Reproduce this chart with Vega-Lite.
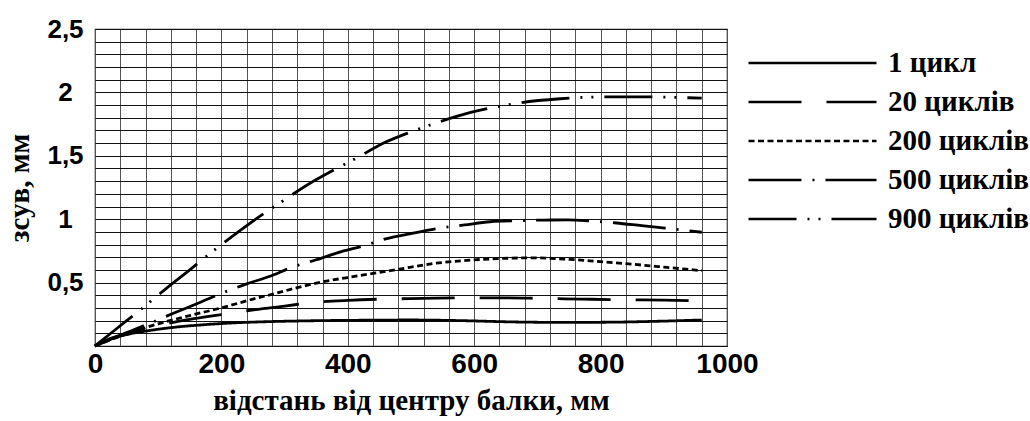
{
  "$schema": "https://vega.github.io/schema/vega-lite/v6.json",
  "width": 632,
  "height": 317,
  "autosize": {"type": "none"},
  "padding": {"left": 95, "top": 29, "right": 303, "bottom": 75},
  "background": "white",
  "config": {
    "view": {"stroke": "#222", "strokeWidth": 1.2},
    "axis": {"domain": false, "ticks": false, "tickSize": 0, "gridOpacity": 1, "gridWidth": 1}
  },
  "data": {
    "values": [
      {"series": "1 цикл", "x": 0, "y": 0},
      {"series": "1 цикл", "x": 25, "y": 0.055},
      {"series": "1 цикл", "x": 50, "y": 0.09},
      {"series": "1 цикл", "x": 90, "y": 0.125},
      {"series": "1 цикл", "x": 130, "y": 0.15},
      {"series": "1 цикл", "x": 170, "y": 0.167},
      {"series": "1 цикл", "x": 210, "y": 0.18},
      {"series": "1 цикл", "x": 260, "y": 0.19},
      {"series": "1 цикл", "x": 330, "y": 0.198},
      {"series": "1 цикл", "x": 420, "y": 0.203},
      {"series": "1 цикл", "x": 500, "y": 0.205},
      {"series": "1 цикл", "x": 580, "y": 0.2},
      {"series": "1 цикл", "x": 660, "y": 0.19},
      {"series": "1 цикл", "x": 740, "y": 0.186},
      {"series": "1 цикл", "x": 820, "y": 0.188},
      {"series": "1 цикл", "x": 890, "y": 0.195},
      {"series": "1 цикл", "x": 960, "y": 0.205},

      {"series": "20 циклів", "x": 0, "y": 0},
      {"series": "20 циклів", "x": 25, "y": 0.06},
      {"series": "20 циклів", "x": 50, "y": 0.1},
      {"series": "20 циклів", "x": 97, "y": 0.16},
      {"series": "20 циклів", "x": 150, "y": 0.21},
      {"series": "20 циклів", "x": 203, "y": 0.25},
      {"series": "20 циклів", "x": 243, "y": 0.28},
      {"series": "20 циклів", "x": 300, "y": 0.315},
      {"series": "20 циклів", "x": 350, "y": 0.345},
      {"series": "20 циклів", "x": 400, "y": 0.36},
      {"series": "20 циклів", "x": 456, "y": 0.37},
      {"series": "20 циклів", "x": 520, "y": 0.375},
      {"series": "20 циклів", "x": 583, "y": 0.38},
      {"series": "20 циклів", "x": 650, "y": 0.38},
      {"series": "20 циклів", "x": 709, "y": 0.375},
      {"series": "20 циклів", "x": 770, "y": 0.37},
      {"series": "20 циклів", "x": 836, "y": 0.365},
      {"series": "20 циклів", "x": 900, "y": 0.362},
      {"series": "20 циклів", "x": 960, "y": 0.355},

      {"series": "200 циклів", "x": 0, "y": 0},
      {"series": "200 циклів", "x": 50, "y": 0.095},
      {"series": "200 циклів", "x": 100, "y": 0.175},
      {"series": "200 циклів", "x": 150, "y": 0.24},
      {"series": "200 циклів", "x": 203, "y": 0.305},
      {"series": "200 циклів", "x": 250, "y": 0.37},
      {"series": "200 циклів", "x": 282, "y": 0.41},
      {"series": "200 циклів", "x": 320, "y": 0.46},
      {"series": "200 циклів", "x": 361, "y": 0.507},
      {"series": "200 циклів", "x": 400, "y": 0.54},
      {"series": "200 циклів", "x": 450, "y": 0.58},
      {"series": "200 циклів", "x": 498, "y": 0.62},
      {"series": "200 циклів", "x": 535, "y": 0.65},
      {"series": "200 циклів", "x": 588, "y": 0.675},
      {"series": "200 циклів", "x": 641, "y": 0.69},
      {"series": "200 циклів", "x": 694, "y": 0.695},
      {"series": "200 циклів", "x": 746, "y": 0.685},
      {"series": "200 циклів", "x": 799, "y": 0.665},
      {"series": "200 циклів", "x": 852, "y": 0.644},
      {"series": "200 циклів", "x": 905, "y": 0.62},
      {"series": "200 циклів", "x": 960, "y": 0.594},

      {"series": "500 циклів", "x": 0, "y": 0},
      {"series": "500 циклів", "x": 40, "y": 0.085},
      {"series": "500 циклів", "x": 87, "y": 0.18},
      {"series": "500 циклів", "x": 125, "y": 0.26},
      {"series": "500 циклів", "x": 163, "y": 0.337},
      {"series": "500 циклів", "x": 200, "y": 0.415},
      {"series": "500 циклів", "x": 240, "y": 0.49},
      {"series": "500 циклів", "x": 277, "y": 0.55},
      {"series": "500 циклів", "x": 311, "y": 0.62},
      {"series": "500 циклів", "x": 350, "y": 0.68},
      {"series": "500 циклів", "x": 390, "y": 0.744},
      {"series": "500 циклів", "x": 425, "y": 0.79},
      {"series": "500 циклів", "x": 460, "y": 0.845},
      {"series": "500 циклів", "x": 498, "y": 0.885},
      {"series": "500 циклів", "x": 543, "y": 0.928},
      {"series": "500 циклів", "x": 585, "y": 0.955},
      {"series": "500 циклів", "x": 625, "y": 0.98},
      {"series": "500 циклів", "x": 669, "y": 0.988},
      {"series": "500 циклів", "x": 710, "y": 0.993},
      {"series": "500 циклів", "x": 748, "y": 0.994},
      {"series": "500 циклів", "x": 783, "y": 0.986},
      {"series": "500 циклів", "x": 825, "y": 0.97},
      {"series": "500 циклів", "x": 865, "y": 0.949},
      {"series": "500 циклів", "x": 902, "y": 0.93},
      {"series": "500 циклів", "x": 960, "y": 0.897},

      {"series": "900 циклів", "x": 0, "y": 0},
      {"series": "900 циклів", "x": 35, "y": 0.14},
      {"series": "900 циклів", "x": 68, "y": 0.27},
      {"series": "900 циклів", "x": 113, "y": 0.455},
      {"series": "900 циклів", "x": 150, "y": 0.6},
      {"series": "900 циклів", "x": 177, "y": 0.71},
      {"series": "900 циклів", "x": 224, "y": 0.89},
      {"series": "900 циклів", "x": 260, "y": 1.02},
      {"series": "900 циклів", "x": 290, "y": 1.12},
      {"series": "900 циклів", "x": 339, "y": 1.28},
      {"series": "900 циклів", "x": 375, "y": 1.38},
      {"series": "900 циклів", "x": 411, "y": 1.475},
      {"series": "900 циклів", "x": 461, "y": 1.61},
      {"series": "900 циклів", "x": 498, "y": 1.685},
      {"series": "900 циклів", "x": 538, "y": 1.756},
      {"series": "900 циклів", "x": 593, "y": 1.84},
      {"series": "900 циклів", "x": 640, "y": 1.89},
      {"series": "900 циклів", "x": 675, "y": 1.92},
      {"series": "900 циклів", "x": 736, "y": 1.95},
      {"series": "900 циклів", "x": 812, "y": 1.965},
      {"series": "900 циклів", "x": 873, "y": 1.965},
      {"series": "900 циклів", "x": 920, "y": 1.96},
      {"series": "900 циклів", "x": 960, "y": 1.955}
    ]
  },
  "mark": {"type": "line", "interpolate": "monotone", "strokeWidth": 2.8, "color": "black"},
  "encoding": {
    "x": {
      "field": "x",
      "type": "quantitative",
      "scale": {"domain": [0, 1000], "nice": false, "zero": true},
      "axis": {
        "values": [0,40,80,120,160,200,240,280,320,360,400,440,480,520,560,600,640,680,720,760,800,840,880,920,960,1000],
        "labelExpr": "datum.value % 200 === 0 ? datum.label : ''",
        "format": "d",
        "labelOverlap": false,
        "labelFlush": false,
        "labelFont": "Liberation Sans",
        "labelFontSize": 28,
        "labelFontWeight": "bold",
        "labelColor": "black",
        "labelPadding": 4,
        "gridColor": "#555",
        "title": "відстань від центру балки, мм",
        "titleFont": "Liberation Serif",
        "titleFontSize": 29,
        "titleFontWeight": "bold",
        "titleColor": "black",
        "titlePadding": 8
      }
    },
    "y": {
      "field": "y",
      "type": "quantitative",
      "scale": {"domain": [0, 2.5], "nice": false},
      "axis": {
        "values": [0,0.1,0.2,0.3,0.4,0.5,0.6,0.7,0.8,0.9,1,1.1,1.2,1.3,1.4,1.5,1.6,1.7,1.8,1.9,2,2.1,2.2,2.3,2.4,2.5],
        "labelExpr": "(round(datum.value * 10) % 5 === 0 && datum.value > 0) ? replace(format(datum.value, '~g'), '.', ',') : ''",
        "labelOverlap": false,
        "labelFlush": false,
        "labelFont": "Liberation Sans",
        "labelFontSize": 26,
        "labelFontWeight": "bold",
        "labelColor": "black",
        "labelAlign": "center",
        "labelPadding": 30,
        "gridColor": "#111",
        "title": "зсув, мм",
        "titleFont": "Liberation Serif",
        "titleFontSize": 29,
        "titleFontWeight": "bold",
        "titleColor": "black",
        "titlePadding": 12
      }
    },
    "strokeDash": {
      "field": "series",
      "type": "nominal",
      "scale": {
        "domain": ["1 цикл", "20 циклів", "200 циклів", "500 циклів", "900 циклів"],
        "range": [[1, 0], [53, 25], [6, 3.5], [53, 11, 2, 11], [48, 11, 2, 9, 2, 11]]
      },
      "legend": {
        "title": null,
        "orient": "none",
        "legendX": 652,
        "legendY": 19,
        "padding": 0,
        "symbolType": "stroke",
        "symbolSize": 16384,
        "symbolStrokeWidth": 2.5,
        "symbolStrokeColor": "black",
        "clipHeight": 30,
        "rowPadding": 9,
        "labelFont": "Liberation Serif",
        "labelFontSize": 29,
        "labelFontWeight": "bold",
        "labelColor": "black",
        "labelOffset": 10,
        "labelLimit": 300
      }
    }
  }
}
